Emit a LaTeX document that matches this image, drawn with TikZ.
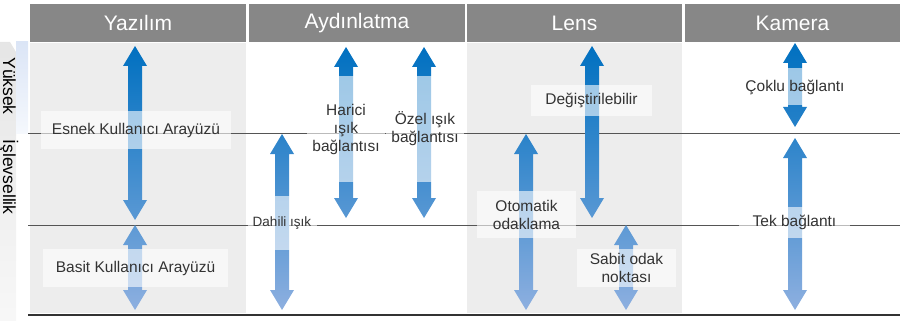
\documentclass[tikz,border=0pt]{standalone}
\usepackage{fontspec}
\setmainfont{Liberation Sans}
\begin{document}
\begin{tikzpicture}[x=1pt,y=-1pt,
  hdr/.style={fill=hdrgray, draw=none, text=white, font=\fontsize{21}{24}\selectfont, inner sep=0pt, anchor=center},
  lbl/.style={fill=white, fill opacity=0.6, text opacity=1, text=txtgray, inner sep=0pt, align=center,
              font=\fontsize{15.5}{18}\selectfont},
  rule/.style={draw=linegray, line width=1pt},
  ]
\definecolor{hdrgray}{RGB}{135,135,135}
\definecolor{colgray}{RGB}{237,237,237}
\definecolor{linegray}{RGB}{85,85,85}
\definecolor{txtgray}{RGB}{51,51,51}
\definecolor{arTop}{RGB}{0,112,192}
\definecolor{arBot}{RGB}{143,176,224}
\newcommand{\vdarrow}[5]{%
  \path[top color=arBot!#4!arTop, bottom color=arBot!#5!arTop]
   (#1,#2) -- (#1+12,#2+20) -- (#1+7,#2+20) -- (#1+7,#3-20) -- (#1+12,#3-20) -- (#1,#3)
   -- (#1-12,#3-20) -- (#1-7,#3-20) -- (#1-7,#2+20) -- (#1-12,#2+20) -- cycle;}
\useasboundingbox (0,0) rectangle (919,321);
% left side indicator
\path[top color=black!10, bottom color=black!3] (0,42) -- (10,42) -- (16,52) -- (16,321) -- (0,321) -- cycle;
\path[top color={rgb,255:red,219;green,229;blue,246}, bottom color={rgb,255:red,245;green,248;blue,253}] (16,42) rectangle (28,133);
\node[rotate=-90, anchor=base, font=\fontsize{17.5}{20}\selectfont, text=black] (side) at (3,136) {Yüksek\hspace{25pt}İşlevsellik};
% column backgrounds
\fill[colgray] (30,43) rectangle (246,313);
\fill[colgray] (467,43) rectangle (682,313);
% headers
\node[hdr, minimum width=216pt, minimum height=38pt] (h1) at (138,23) {Yazılım};
\node[hdr, minimum width=216pt, minimum height=38pt] (h2) at (357,23) {Aydınlatma};
\node[hdr, minimum width=215pt, minimum height=38pt] (h3) at (574.5,23) {Lens};
\node[hdr, minimum width=215pt, minimum height=38pt] (h4) at (792.5,23) {Kamera};
% rules
\coordinate (r1a) at (28,133); \coordinate (r1b) at (900,133);
\coordinate (r2a) at (28,225); \coordinate (r2b) at (900,225);
\coordinate (r3a) at (28,315); \coordinate (r3b) at (900,315);
\draw[rule] (r1a) -- (r1b);
\draw[rule] (r2a) -- (r2b);
\draw[draw=black!80, line width=1.3pt] (r3a) -- (r3b);
% arrows
\vdarrow{135}{46}{220}{0}{63}
\vdarrow{135}{225}{310}{65}{99}
\vdarrow{282}{134}{310}{29}{99}
\vdarrow{346}{47}{218}{0}{62}
\vdarrow{424}{47}{218}{0}{62}
\vdarrow{592}{46}{218}{0}{62}
\vdarrow{526}{134}{310}{29}{99}
\vdarrow{626}{225}{310}{65}{99}
\vdarrow{795}{43}{127}{0}{26}
\vdarrow{795}{138}{310}{31}{99}
% labels
\node[lbl, minimum width=190pt, minimum height=38pt] (esnek) at (136,130) {Esnek Kullanıcı Arayüzü};
\node[lbl, minimum width=185pt, minimum height=38pt] (basit) at (135.5,268) {Basit Kullanıcı Arayüzü};
\node[lbl, minimum width=69pt, minimum height=54pt, font=\fontsize{13.5}{16}\selectfont] (dahili) at (282,223) {Dahili ışık};
\node[lbl, minimum width=78pt, minimum height=106pt] (harici) at (346,129) {Harici\\ışık\\bağlantısı};
\node[lbl, minimum width=78pt, minimum height=106pt] (ozel) at (425,129) {Özel ışık\\bağlantısı};
\node[lbl, minimum width=121pt, minimum height=31pt] (degis) at (591.5,100.5) {Değiştirilebilir};
\node[lbl, minimum width=99pt, minimum height=47pt] (otom) at (526.5,214.5) {Otomatik\\odaklama};
\node[lbl, minimum width=99pt, minimum height=38pt] (sabit) at (626.5,268) {Sabit odak\\noktası};
\node[lbl, minimum width=110pt, minimum height=37pt] (coklu) at (795,87) {Çoklu bağlantı};
\node[lbl, minimum width=111pt, minimum height=31pt] (tek) at (794.5,222.5) {Tek bağlantı};
\end{tikzpicture}
\end{document}
